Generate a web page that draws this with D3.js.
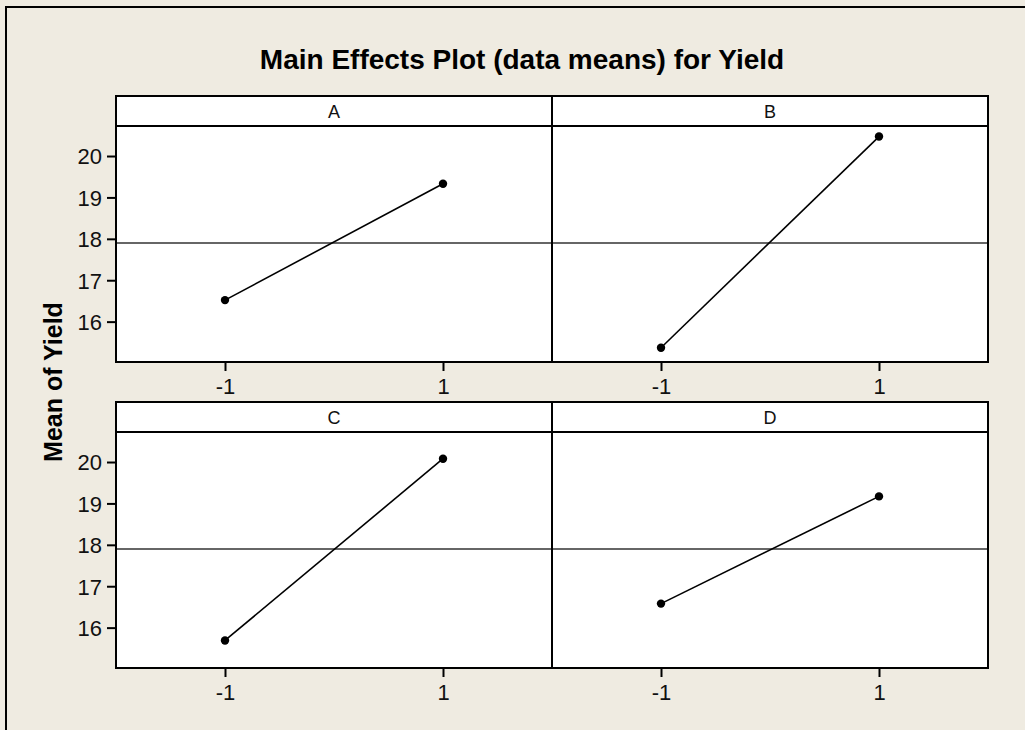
<!DOCTYPE html>
<html>
<head>
<meta charset="utf-8">
<script src="https://cdn.jsdelivr.net/npm/d3@7"></script>
<style>
  html, body { margin: 0; padding: 0; background: #efebe1; }
  svg { display: block; }
</style>
</head>
<body>
<svg id="chart" width="1025" height="730"></svg>
<script>
// data
const factors = ['A', 'B', 'C', 'D'];
const levels = [-1, 1];
const meansA = [16.52, 19.33];
const meansB = [15.37, 20.47];
const meansC = [15.69, 20.08];
const meansD = [16.58, 19.17];
const grandMean = 17.90;
const yTicks = [16, 17, 18, 19, 20];
const title = 'Main Effects Plot (data means) for Yield';
const yTitle = 'Mean of Yield';

const seriesMeans = [meansA, meansB, meansC, meansD];

// layout
const svg = d3.select('#chart');
const bg = '#efebe1';
const gridLeft = 116;
const gridRight = 988;
const colW = (gridRight - gridLeft) / 2;
const rowTops = [96, 402];
const stripH = 30;
const plotH = 236;
const font = '"Liberation Sans", Arial, sans-serif';

svg.append('rect')
  .attr('width', 1025).attr('height', 730)
  .attr('fill', bg);

// outer frame (only top and left edges show in the crop)
svg.append('rect')
  .attr('x', 6).attr('y', 7)
  .attr('width', 1100).attr('height', 800)
  .attr('fill', 'none')
  .attr('stroke', '#000')
  .attr('stroke-width', 2);

svg.append('text')
  .attr('x', 522)
  .attr('y', 69)
  .attr('text-anchor', 'middle')
  .attr('font-family', font)
  .attr('font-weight', 'bold')
  .attr('font-size', 28)
  .attr('fill', '#000')
  .text(title);

svg.append('text')
  .attr('transform', 'translate(62, 382) rotate(-90)')
  .attr('text-anchor', 'middle')
  .attr('font-family', font)
  .attr('font-weight', 'bold')
  .attr('font-size', 25)
  .attr('fill', '#000')
  .text(yTitle);

factors.forEach((f, i) => {
  const col = i % 2;
  const row = Math.floor(i / 2);
  const x0 = gridLeft + col * colW;
  const top = rowTops[row];
  const plotTop = top + stripH;
  const plotBottom = plotTop + plotH;

  const xScale = d3.scaleLinear().domain([-2, 2]).range([x0, x0 + colW]);
  const yScale = d3.scaleLinear().domain([15.025, 20.725]).range([plotBottom, plotTop]);

  const g = svg.append('g').attr('class', 'panel');

  // strip + plot backgrounds
  g.append('rect')
    .attr('x', x0).attr('y', top)
    .attr('width', colW).attr('height', stripH + plotH)
    .attr('fill', '#fff');

  g.append('text')
    .attr('x', x0 + colW / 2)
    .attr('y', top + 22)
    .attr('text-anchor', 'middle')
    .attr('font-family', font)
    .attr('font-size', 18)
    .attr('fill', '#111')
    .text(f);

  // grand mean reference line
  g.append('line')
    .attr('x1', x0).attr('x2', x0 + colW)
    .attr('y1', yScale(grandMean)).attr('y2', yScale(grandMean))
    .attr('stroke', '#333')
    .attr('stroke-width', 1.5);

  const pts = levels.map((lv, j) => ({x: lv, y: seriesMeans[i][j]}));

  g.append('path')
    .datum(pts)
    .attr('fill', 'none')
    .attr('stroke', '#000')
    .attr('stroke-width', 1.6)
    .attr('d', d3.line().x(d => xScale(d.x)).y(d => yScale(d.y)));

  g.selectAll('circle')
    .data(pts)
    .join('circle')
      .attr('cx', d => xScale(d.x))
      .attr('cy', d => yScale(d.y))
      .attr('r', 4.2)
      .attr('fill', '#000');

  // frame lines
  g.append('rect')
    .attr('x', x0).attr('y', top)
    .attr('width', colW).attr('height', stripH + plotH)
    .attr('fill', 'none')
    .attr('stroke', '#000')
    .attr('stroke-width', 2);
  g.append('line')
    .attr('x1', x0).attr('x2', x0 + colW)
    .attr('y1', plotTop).attr('y2', plotTop)
    .attr('stroke', '#000')
    .attr('stroke-width', 2);

  // x axis
  const xAxis = g.append('g')
    .attr('transform', `translate(0, ${plotBottom + 1})`)
    .call(d3.axisBottom(xScale).tickValues(levels).tickSize(8).tickPadding(7).tickFormat(d => `${d}`))
    .attr('font-family', font)
    .attr('font-size', 22);
  xAxis.select('.domain').remove();

  // y axis only on the left column
  if (col === 0) {
    const yAxis = g.append('g')
      .attr('transform', `translate(${x0 - 1}, 0)`)
      .call(d3.axisLeft(yScale).tickValues(yTicks).tickSize(8).tickPadding(5).tickFormat(d => `${d}`))
      .attr('font-family', font)
      .attr('font-size', 22);
    yAxis.select('.domain').remove();
    yAxis.selectAll('text').attr('dy', '0.36em');
  }

  g.selectAll('.tick line').attr('stroke', '#000').attr('stroke-width', 2);
  g.selectAll('.tick text').attr('fill', '#111');
});
</script>
</body>
</html>
